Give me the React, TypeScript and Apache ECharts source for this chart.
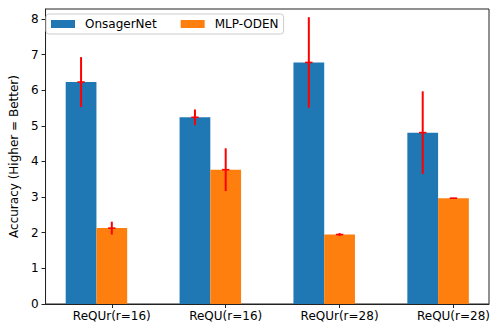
import React, { useEffect, useRef } from "react";
import * as echarts from "echarts";

const categories = ["ReQUr(r=16)", "ReQU(r=16)", "ReQUr(r=28)", "ReQU(r=28)"];
const seriesNames = ["OnsagerNet", "MLP-ODEN"];
const onsagerValues = [6.23, 5.24, 6.78, 4.81];
const onsagerErrors = [0.7, 0.22, 1.27, 1.16];
const mlpValues = [2.13, 3.77, 1.95, 2.97];
const mlpErrors = [0.18, 0.6, 0.04, 0.01];
const yTicks = [0, 1, 2, 3, 4, 5, 6, 7, 8];

const BAR_W = 0.27;
const COLORS = ["#1f77b4", "#ff7f0e"];
const FONT = "DejaVu Sans";

export default function App() {
  const ref = useRef<HTMLDivElement>(null);
  useEffect(() => {
    if (!ref.current) return;
    const chart = echarts.init(ref.current, undefined, { renderer: "svg" });
    const positions = categories.map((_, i) => i);
    const onsagerData = positions.map((x, i) => [x - BAR_W, onsagerValues[i], onsagerErrors[i]]);
    const mlpData = positions.map((x, i) => [x, mlpValues[i], mlpErrors[i]]);

    const barRender = (color: string) => (params: any, api: any) => {
      const x = api.value(0);
      const y = api.value(1);
      const p1 = api.coord([x - BAR_W / 2, y]);
      const p2 = api.coord([x + BAR_W / 2, 0]);
      return {
        type: "rect",
        shape: { x: p1[0], y: p1[1], width: p2[0] - p1[0], height: p2[1] - p1[1] },
        style: { fill: color },
      };
    };
    const errRender = (params: any, api: any) => {
      const x = api.value(0);
      const y = api.value(1);
      const e = api.value(2);
      const top = api.coord([x, y + e]);
      const bot = api.coord([x, y - e]);
      const mid = api.coord([x, y]);
      return {
        type: "group",
        children: [
          {
            type: "line",
            shape: { x1: top[0], y1: top[1], x2: bot[0], y2: bot[1] },
            style: { stroke: "#ff0000", lineWidth: 2 },
          },
          {
            type: "line",
            shape: { x1: mid[0] - 3.7, y1: mid[1], x2: mid[0] + 3.7, y2: mid[1] },
            style: { stroke: "#ff0000", lineWidth: 1.6 },
          },
        ],
      };
    };

    chart.setOption({
      animation: false,
      grid: {
        left: 41,
        top: 9,
        width: 448,
        height: 295,
        show: true,
        borderColor: "#222",
        borderWidth: 1,
        backgroundColor: "transparent",
      },
      legend: {
        left: 46,
        top: 14,
        data: seriesNames.map((n, i) => ({ name: n, icon: "rect", itemStyle: { color: COLORS[i] } })),
        itemWidth: 24,
        itemHeight: 8,
        itemGap: 24,
        padding: [4, 5, 4, 5],
        borderColor: "#cccccc",
        borderWidth: 1,
        borderRadius: 3,
        textStyle: { fontFamily: FONT, fontSize: 12, color: "#000", padding: [0, 0, 0, 5] },
      },
      xAxis: {
        type: "value",
        min: -0.582,
        max: 3.312,
        splitLine: { show: false },
        axisLine: { show: true, onZero: false, lineStyle: { color: "#222", width: 1 } },
        axisTick: {
          show: true,
          inside: false,
          customValues: positions,
          length: 4,
          lineStyle: { color: "#222" },
        },
        axisLabel: {
          show: true,
          customValues: positions,
          formatter: (v: number) => categories[Math.round(v)] ?? "",
          fontFamily: FONT,
          fontSize: 12,
          color: "#000",
          margin: 6,
        },
      },
      yAxis: {
        type: "value",
        min: 0,
        max: 8.28,
        splitLine: { show: false },
        axisLine: { show: true, onZero: false, lineStyle: { color: "#222", width: 1 } },
        axisTick: {
          show: true,
          inside: false,
          customValues: yTicks,
          length: 4,
          lineStyle: { color: "#222" },
        },
        axisLabel: {
          customValues: yTicks,
          fontFamily: FONT,
          fontSize: 12,
          color: "#000",
          margin: 7,
        },
        name: "Accuracy (Higher = Better)",
        nameLocation: "middle",
        nameRotate: 90,
        nameGap: 21,
        nameTextStyle: { fontFamily: FONT, fontSize: 12, color: "#000" },
      },
      series: [
        { name: seriesNames[0], type: "custom", renderItem: barRender(COLORS[0]), data: onsagerData, itemStyle: { color: COLORS[0] }, encode: { x: 0, y: 1 }, z: 2 },
        { name: seriesNames[1], type: "custom", renderItem: barRender(COLORS[1]), data: mlpData, itemStyle: { color: COLORS[1] }, encode: { x: 0, y: 1 }, z: 2 },
        { name: "err0", type: "custom", renderItem: errRender, data: onsagerData, encode: { x: 0, y: 1 }, z: 3 },
        { name: "err1", type: "custom", renderItem: errRender, data: mlpData, encode: { x: 0, y: 1 }, z: 3 },
      ],
    });
    return () => chart.dispose();
  }, []);
  return <div ref={ref} style={{ width: 498, height: 332, position: "absolute", left: 0, top: 0 }} />;
}
